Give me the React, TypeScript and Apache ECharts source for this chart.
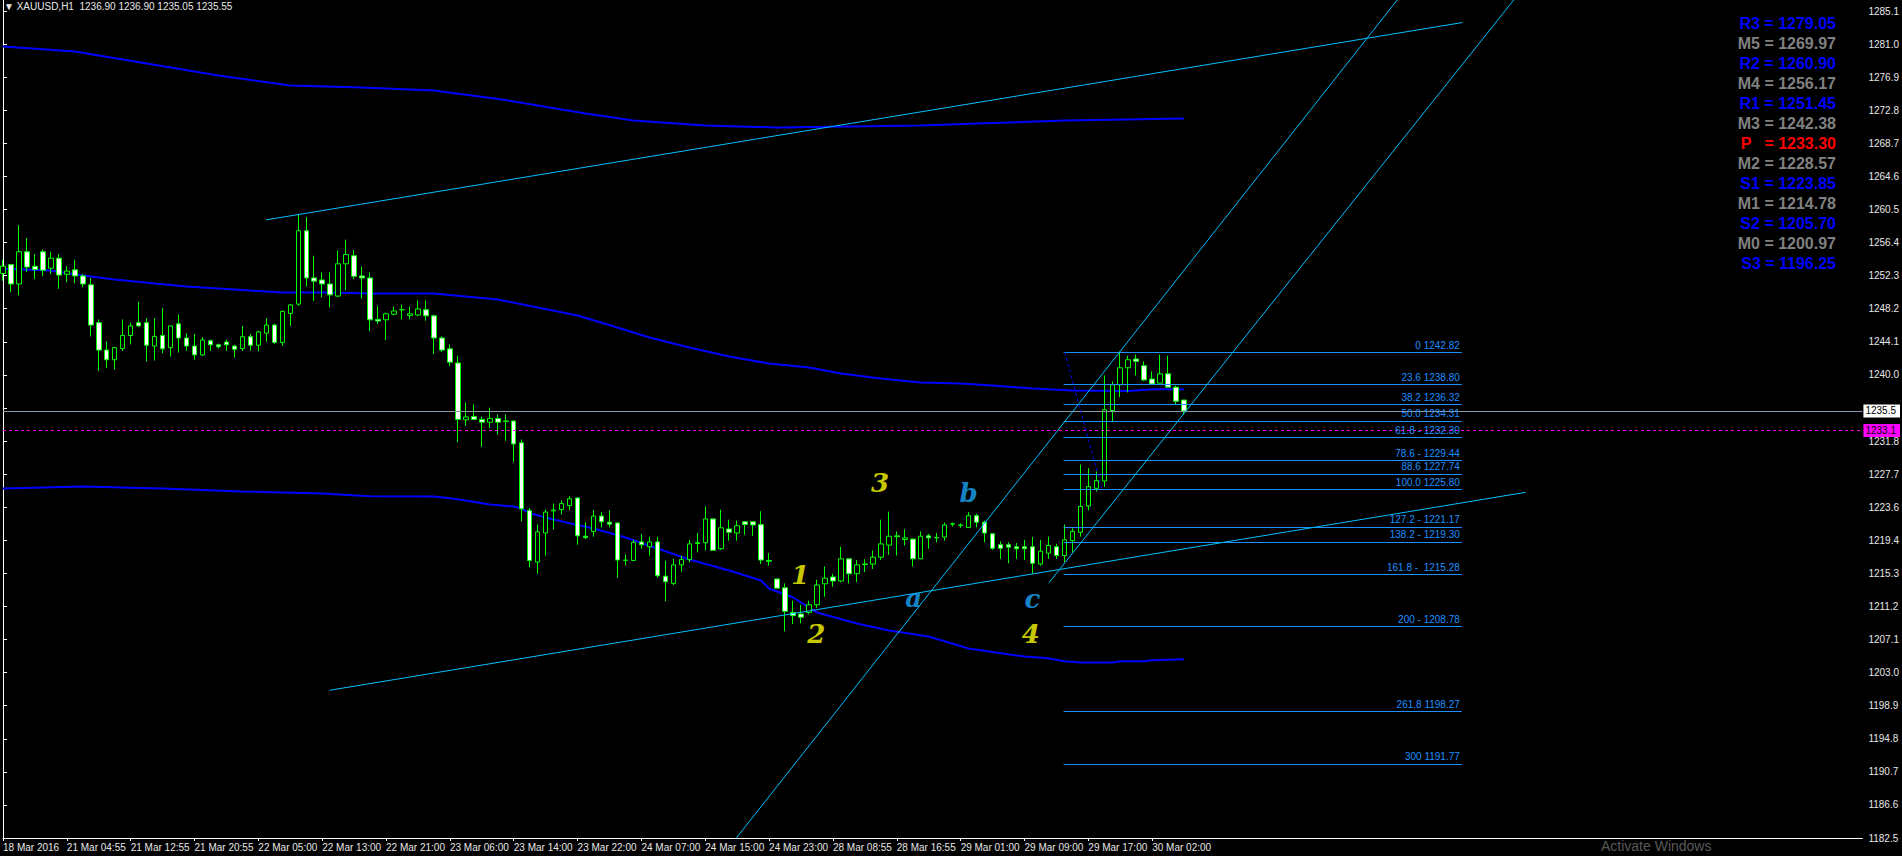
import React, { useEffect, useRef } from 'react';
import * as echarts from 'echarts';

const FONT = "Tahoma, 'Liberation Sans', Arial, sans-serif";
const TOTAL_SLOTS = 234;

const tickLabels = [
  '18 Mar 2016', '21 Mar 04:55', '21 Mar 12:55', '21 Mar 20:55', '22 Mar 05:00', '22 Mar 13:00',
  '22 Mar 21:00', '23 Mar 06:00', '23 Mar 14:00', '23 Mar 22:00', '24 Mar 07:00', '24 Mar 15:00',
  '24 Mar 23:00', '28 Mar 08:55', '28 Mar 16:55', '29 Mar 01:00', '29 Mar 09:00', '29 Mar 17:00',
  '30 Mar 02:00',
];

// price-axis grid of the terminal
const priceAxisStart = 1182.562;
const priceAxisStep = 4.104;

// [open, high, low, close]
const candles: number[][] = [
  [1252.6, 1254.3, 1251.7, 1253.5], [1253.7, 1253.8, 1250.3, 1251.3], [1251.3, 1258.6, 1249.9, 1255.3],
  [1255.3, 1257.0, 1252.8, 1253.4], [1253.5, 1255.0, 1251.9, 1253.1], [1255.3, 1255.6, 1252.3, 1253.0],
  [1253.25, 1255.3, 1252.5, 1254.5], [1254.5, 1255.0, 1250.7, 1252.4], [1252.5, 1253.5, 1251.5, 1252.9],
  [1253.05, 1254.3, 1251.4, 1252.3], [1252.3, 1252.55, 1250.9, 1251.3], [1251.2, 1252.05, 1244.8, 1246.2],
  [1246.5, 1246.9, 1240.5, 1243.1], [1243.1, 1244.2, 1240.85, 1241.9], [1241.9, 1243.5, 1240.7, 1243.4],
  [1243.3, 1246.9, 1243.0, 1244.9], [1244.9, 1246.5, 1243.8, 1246.1], [1246.5, 1249.1, 1246.0, 1246.1],
  [1246.5, 1247.05, 1241.7, 1243.7], [1243.6, 1247.05, 1241.8, 1244.8], [1244.9, 1248.3, 1242.7, 1243.25],
  [1243.4, 1246.1, 1242.3, 1246.1], [1246.35, 1247.5, 1242.8, 1244.6], [1244.6, 1245.2, 1243.0, 1243.6],
  [1243.6, 1245.1, 1241.9, 1242.5], [1242.5, 1244.7, 1242.4, 1244.35], [1244.25, 1244.4, 1243.0, 1243.75],
  [1243.75, 1243.9, 1243.3, 1243.5], [1244.1, 1244.4, 1243.0, 1243.75], [1243.6, 1243.75, 1242.2, 1243.2],
  [1243.3, 1246.1, 1243.0, 1244.75], [1244.75, 1245.1, 1243.0, 1243.7], [1243.7, 1245.5, 1242.95, 1245.35],
  [1245.2, 1247.05, 1244.15, 1246.2], [1246.2, 1246.35, 1243.85, 1244.05], [1244.05, 1248.0, 1243.65, 1247.9],
  [1247.65, 1248.8, 1246.1, 1248.7], [1248.8, 1260.0, 1248.6, 1257.9], [1257.9, 1259.6, 1251.0, 1252.05],
  [1252.05, 1254.8, 1249.2, 1251.65], [1251.8, 1252.75, 1249.65, 1251.3], [1251.3, 1252.75, 1248.4, 1249.95],
  [1249.8, 1255.45, 1249.65, 1253.8], [1253.8, 1256.8, 1250.5, 1254.95], [1254.8, 1255.5, 1251.9, 1252.25],
  [1252.3, 1253.45, 1249.5, 1252.05], [1252.05, 1252.75, 1245.45, 1246.85], [1246.9, 1248.6, 1246.35, 1246.7],
  [1246.85, 1247.75, 1244.35, 1247.6], [1247.55, 1248.5, 1247.4, 1247.95], [1248.1, 1248.75, 1246.9, 1248.1],
  [1247.4, 1248.5, 1246.9, 1247.6], [1247.45, 1249.25, 1247.3, 1248.2], [1248.1, 1249.25, 1246.75, 1247.35],
  [1247.35, 1247.5, 1242.6, 1244.6], [1244.6, 1244.8, 1242.85, 1243.1], [1243.25, 1243.8, 1241.1, 1241.6],
  [1241.5, 1242.4, 1231.65, 1234.5], [1234.45, 1236.6, 1233.7, 1234.8], [1234.85, 1236.35, 1234.4, 1234.5],
  [1234.5, 1234.85, 1231.1, 1234.15], [1234.15, 1235.95, 1233.45, 1234.6], [1234.6, 1235.1, 1232.6, 1234.15],
  [1234.25, 1235.1, 1231.85, 1234.3], [1234.3, 1234.35, 1229.2, 1231.45], [1231.6, 1232.0, 1221.85, 1223.4],
  [1223.2, 1223.5, 1216.15, 1217.0], [1216.8, 1221.45, 1215.35, 1220.55], [1220.4, 1223.3, 1217.6, 1223.0],
  [1223.15, 1224.05, 1220.85, 1223.25], [1223.3, 1224.45, 1222.7, 1224.05], [1223.8, 1224.95, 1223.25, 1224.65],
  [1224.75, 1224.8, 1218.95, 1220.05], [1220.0, 1221.75, 1219.65, 1219.85], [1220.6, 1223.25, 1219.95, 1222.5],
  [1222.5, 1223.0, 1221.1, 1221.8], [1221.75, 1223.2, 1221.1, 1221.5], [1221.65, 1221.7, 1214.85, 1217.05],
  [1217.0, 1217.75, 1216.4, 1217.05], [1217.0, 1219.55, 1216.95, 1219.25], [1219.3, 1220.3, 1218.45, 1218.95],
  [1218.7, 1219.95, 1217.6, 1219.3], [1219.3, 1219.95, 1214.85, 1215.1], [1215.05, 1217.0, 1211.95, 1214.35],
  [1214.15, 1217.2, 1213.95, 1216.45], [1216.45, 1217.6, 1215.6, 1217.1], [1217.1, 1219.55, 1216.75, 1219.05],
  [1219.1, 1220.4, 1218.0, 1219.2], [1219.2, 1223.7, 1218.25, 1222.15], [1222.15, 1222.2, 1218.2, 1218.25],
  [1218.45, 1223.3, 1218.3, 1221.05], [1220.9, 1222.05, 1219.45, 1220.5], [1220.4, 1221.95, 1219.45, 1221.3],
  [1221.8, 1221.85, 1220.2, 1221.45], [1221.8, 1221.85, 1220.05, 1221.4], [1221.45, 1223.1, 1216.55, 1217.05],
  [1217.0, 1217.9, 1216.35, 1216.9], [1214.7, 1214.75, 1213.5, 1213.55], [1213.6, 1214.15, 1208.2, 1210.7],
  [1210.55, 1212.0, 1209.1, 1210.15], [1210.35, 1211.5, 1209.2, 1209.95], [1210.55, 1212.0, 1210.3, 1211.5],
  [1211.5, 1214.6, 1211.1, 1213.95], [1214.1, 1216.25, 1212.5, 1214.8], [1214.95, 1215.35, 1213.75, 1214.45],
  [1214.45, 1218.7, 1214.3, 1217.2], [1217.2, 1217.25, 1214.15, 1215.35], [1215.35, 1217.05, 1214.3, 1216.45],
  [1216.5, 1217.15, 1215.55, 1216.55], [1216.55, 1218.25, 1215.95, 1217.4], [1217.4, 1222.05, 1217.05, 1219.05],
  [1218.9, 1223.05, 1217.7, 1220.0], [1219.95, 1220.6, 1217.6, 1220.05], [1219.6, 1220.85, 1218.85, 1219.8],
  [1219.65, 1219.7, 1216.25, 1217.2], [1217.2, 1220.6, 1217.15, 1220.0], [1220.05, 1220.3, 1218.45, 1219.8],
  [1219.8, 1220.4, 1219.25, 1219.85], [1219.9, 1221.7, 1219.45, 1221.4], [1221.5, 1221.7, 1221.2, 1221.55],
  [1221.35, 1221.6, 1221.05, 1221.4], [1221.1, 1223.0, 1221.05, 1222.55], [1222.55, 1222.8, 1221.1, 1221.75],
  [1221.75, 1221.95, 1219.25, 1220.4], [1220.3, 1220.35, 1218.3, 1218.5], [1218.95, 1219.35, 1217.2, 1218.5],
  [1218.95, 1219.25, 1216.65, 1218.65], [1218.7, 1219.15, 1217.2, 1218.45], [1218.7, 1219.55, 1217.05, 1218.45],
  [1218.7, 1219.9, 1215.35, 1216.65], [1216.55, 1219.55, 1216.35, 1218.15], [1217.9, 1219.95, 1217.2, 1218.85],
  [1218.7, 1219.05, 1217.2, 1217.6], [1217.6, 1221.45, 1216.8, 1219.55], [1219.45, 1221.0, 1218.0, 1220.6],
  [1220.5, 1228.9, 1219.95, 1223.7], [1223.75, 1228.45, 1223.2, 1226.15], [1225.95, 1228.05, 1225.55, 1226.9],
  [1226.85, 1239.95, 1226.1, 1235.7], [1235.6, 1239.2, 1234.15, 1238.8], [1238.8, 1242.9, 1237.25, 1240.9],
  [1240.9, 1242.4, 1237.85, 1241.9], [1242.0, 1242.55, 1239.95, 1241.7], [1241.15, 1241.7, 1239.25, 1239.4],
  [1239.5, 1240.45, 1238.8, 1238.9], [1239.0, 1242.55, 1238.95, 1240.15], [1240.15, 1242.4, 1238.4, 1238.5],
  [1238.5, 1238.7, 1236.35, 1236.75], [1236.9, 1236.9, 1235.05, 1235.55],
];

// moving-average envelope, read as [bar, price]
const maTop: number[][] = [
  [0, 1280.76], [9, 1280.14], [18, 1278.65], [27, 1277.16], [36, 1275.92], [45, 1275.67], [54, 1275.3],
  [63, 1274.12], [73, 1272.45], [79, 1271.58], [88, 1270.95], [97, 1270.71], [106, 1270.83], [115, 1270.95],
  [124, 1271.27], [133, 1271.58], [148, 1271.83],
];
const maMid: number[][] = [
  [0, 1253.18], [6, 1252.97], [10, 1252.35], [14, 1251.85], [19, 1251.35], [23, 1250.98], [27, 1250.73],
  [31, 1250.48], [35, 1250.24], [41, 1250.24], [46, 1250.11], [54, 1250.11], [58, 1249.74], [62, 1249.37],
  [72, 1247.38], [77, 1245.89], [81, 1244.65], [86, 1243.41], [91, 1242.3], [96, 1241.43], [101, 1240.93],
  [105, 1240.19], [110, 1239.57], [115, 1239.07], [120, 1238.95], [124, 1238.7], [129, 1238.33],
  [134, 1238.08], [141, 1238.02], [144, 1238.24], [148, 1238.24],
];
const maBot: number[][] = [
  [0, 1225.92], [10, 1226.17], [20, 1225.92], [30, 1225.55], [40, 1225.3], [46, 1224.96], [54, 1224.93],
  [56, 1224.72], [58, 1224.43], [61, 1223.93], [64, 1223.69], [65, 1223.44], [66, 1222.85], [69, 1222.07],
  [71, 1221.62], [74, 1220.96], [78, 1219.84], [82, 1218.48], [86, 1217.11], [91, 1215.75], [95, 1214.51],
  [96, 1213.51], [99, 1212.4], [102, 1210.53], [107, 1209.17], [111, 1208.3], [116, 1207.56], [121, 1206.07],
  [128, 1205.07], [131, 1204.86], [133, 1204.49], [135, 1204.33], [139, 1204.33], [140, 1204.49],
  [143, 1204.49], [144, 1204.61], [148, 1204.74],
];

// trend lines, [bar, price] pairs
const channelUpper = [[32.94, 1259.25], [182.9, 1283.74]];
const channelLower = [[40.94, 1200.89], [190.8, 1225.45]];
const steepLineA = [[91, 1181.44], [175, 1286.9]];
const steepLineB = [[131.06, 1214.22], [190, 1287.39]];
const fibAnchor = [[133.06, 1242.82], [137.7, 1225.8]];
const fibRange = [132.9, 182.8];

const fibPrices = [1242.82, 1238.8, 1236.32, 1234.31, 1232.3, 1229.44, 1227.74, 1225.8, 1221.17, 1219.3, 1215.28, 1208.78, 1198.27, 1191.77];
const fibTexts = ['0 1242.82', '23.6 1238.80', '38.2 1236.32', '50.0 1234.31', '61.8 - 1232.30', '78.6 - 1229.44', '88.6 1227.74', '100.0 1225.80', '127.2 - 1221.17', '138.2 - 1219.30', '161.8 -  1215.28', '200 - 1208.78', '261.8 1198.27', '300 1191.77'];

const waveTexts = ['1', '2', '3', '4', 'a', 'b', 'c'];
const waveBars = [99.9, 101.9, 109.9, 128.8, 114.1, 121.0, 129.0];
const wavePrices = [1215.22, 1207.93, 1226.63, 1207.9, 1212.36, 1225.39, 1212.24];

const pivotNames = ['R3', 'M5', 'R2', 'M4', 'R1', 'M3', 'P  ', 'M2', 'S1', 'M1', 'S2', 'M0', 'S3'];
const pivotValues = [1279.05, 1269.97, 1260.9, 1256.17, 1251.45, 1242.38, 1233.3, 1228.57, 1223.85, 1214.78, 1205.7, 1200.97, 1196.25];

const symbolTitle = 'XAUUSD,H1  1236.90 1236.90 1235.05 1235.55';
const currentPrice = 1235.55;
const pivotLinePrice = 1233.12;
const watermark = 'Activate Windows';

const trunc1 = (v: number) => (Math.floor(v * 10 + 1e-6) / 10).toFixed(1);

export default function App() {
  const ref = useRef<HTMLDivElement>(null);
  useEffect(() => {
    if (!ref.current) return;
    const chart = echarts.init(ref.current, null, { renderer: 'svg' });
    const categories = Array.from({ length: TOTAL_SLOTS }, (_, i) =>
      i % 8 === 0 && i / 8 < tickLabels.length ? tickLabels[i / 8] : ''
    );
    const trend = (data: number[][], color: string, extra: any = {}) => ({
      type: 'line', xAxisIndex: 1, data, symbol: 'none', silent: true, clip: true, z: 6,
      lineStyle: { color, width: 1, ...extra },
    });
    const ma = (data: number[][]) => ({
      type: 'line', xAxisIndex: 1, data, symbol: 'none', silent: true, z: 3,
      lineStyle: { color: '#0000ff', width: 2 },
    });
    const option: any = {
      animation: false,
      backgroundColor: '#000',
      grid: { left: 1.5, top: 0, width: 1865, height: 838, containLabel: false },
      xAxis: [
        {
          type: 'category', data: categories, boundaryGap: false,
          axisLine: { lineStyle: { color: '#ffffff', width: 1 } },
          axisTick: { show: true, length: 3, interval: (_i: number, v: string) => v !== '', lineStyle: { color: '#ffffff' } },
          axisLabel: {
            interval: (_i: number, v: string) => v !== '', align: 'left', color: '#e8e8e8',
            fontSize: 10, fontFamily: FONT, margin: 4,
          },
          splitLine: { show: false },
        },
        { type: 'value', min: 0, max: TOTAL_SLOTS - 1, show: false },
      ],
      yAxis: {
        type: 'value', position: 'right', min: priceAxisStart, max: priceAxisStart + 838 / 8.06, interval: priceAxisStep,
        axisLine: { show: true, lineStyle: { color: '#ffffff', width: 1 } },
        axisTick: { show: true, length: 4, lineStyle: { color: '#ffffff' } },
        axisLabel: {
          color: '#e8e8e8', fontSize: 10, fontFamily: FONT, margin: 6, showMaxLabel: false,
          formatter: (v: number) => (Math.abs(v - currentPrice) < 1.5 ? '' : trunc1(v)),
        },
        splitLine: { show: false },
      },
      graphic: [
        {
          type: 'text', x: 4, y: 6,
          style: { text: '\u25BC ' + symbolTitle, fill: '#e8e8e8', font: `10px ${FONT}`, verticalAlign: 'middle', textVerticalAlign: 'middle' },
        },
        {
          type: 'text', x: 1601, y: 839,
          style: { text: watermark, fill: '#5a5a5a', font: `14px 'Liberation Sans', Arial, sans-serif`, verticalAlign: 'top', textVerticalAlign: 'top' },
        },
        ...pivotNames.map((n, i) => ({
          type: 'text', x: 1836, y: 23.3 + 20 * i,
          style: {
            text: `${n} = ${pivotValues[i].toFixed(2)}`,
            fill: n.startsWith('P') ? '#ff0000' : n.startsWith('M') ? '#808080' : '#0000ff',
            font: `bold 16px 'Liberation Sans', Arial, sans-serif`,
            align: 'right', textAlign: 'right', verticalAlign: 'middle', textVerticalAlign: 'middle',
          },
        })),
      ],
      series: [
        ma(maTop), ma(maMid), ma(maBot),
        {
          type: 'candlestick', xAxisIndex: 0, z: 4, barWidth: 5,
          data: candles.map(([o, h, l, c]) => [o, c, l, h]),
          itemStyle: {
            color: '#000000', color0: '#ffffff', borderColor: '#00ff00', borderColor0: '#00ff00',
            borderColorDoji: '#00ff00', borderWidth: 1,
          },
          markLine: {
            silent: true, symbol: ['none', 'none'], animation: false,
            data: [
              {
                yAxis: currentPrice, lineStyle: { color: '#8a9aaa', width: 1, type: 'solid' },
                label: { show: true, position: 'end', distance: 1, formatter: trunc1(currentPrice), color: '#000', backgroundColor: '#ffffff', padding: [2, 4, 1, 2], fontSize: 10, fontFamily: FONT },
              },
              {
                yAxis: pivotLinePrice, lineStyle: { color: '#ff00ff', width: 1, type: [3, 3] },
                label: { show: true, position: 'end', distance: 1, formatter: trunc1(pivotLinePrice), color: '#000', backgroundColor: '#ff00ff', padding: [2, 4, 1, 2], fontSize: 10, fontFamily: FONT },
              },
            ],
          },
        },
        trend(channelUpper, '#00bfff'),
        trend(channelLower, '#00bfff'),
        trend(steepLineA, '#00bfff'),
        trend(steepLineB, '#00bfff'),
        {
          ...trend(fibAnchor, '#0000ff', { type: [3, 3] }),
          markLine: {
            silent: true, symbol: ['none', 'none'], animation: false,
            lineStyle: { color: '#1e90ff', width: 1, type: 'solid' },
            label: { show: true, position: 'insideEndTop', distance: 2, color: '#1e90ff', fontSize: 10, fontFamily: FONT },
            data: fibPrices.map((p, i) => [
              { coord: [fibRange[0], p], label: { formatter: fibTexts[i] } },
              { coord: [fibRange[1], p] },
            ]),
          },
        },
        {
          type: 'scatter', xAxisIndex: 1, symbolSize: 0, silent: true, z: 7,
          data: waveTexts.map((t, i) => ({
            value: [waveBars[i], wavePrices[i]],
            label: {
              show: true, position: 'inside', formatter: t,
              color: /\d/.test(t) ? '#ffff00' : '#1ea8ff',
              fontSize: 26, fontStyle: 'italic', fontWeight: 'bold', fontFamily: "'DejaVu Serif', 'Liberation Serif', serif",
            },
          })),
        },
      ],
    };
    chart.setOption(option);
    return () => chart.dispose();
  }, []);
  return (
    <div
      ref={ref}
      style={{ position: 'fixed', left: 0, top: 0, width: 1902, height: 856, background: '#000' }}
    />
  );
}
